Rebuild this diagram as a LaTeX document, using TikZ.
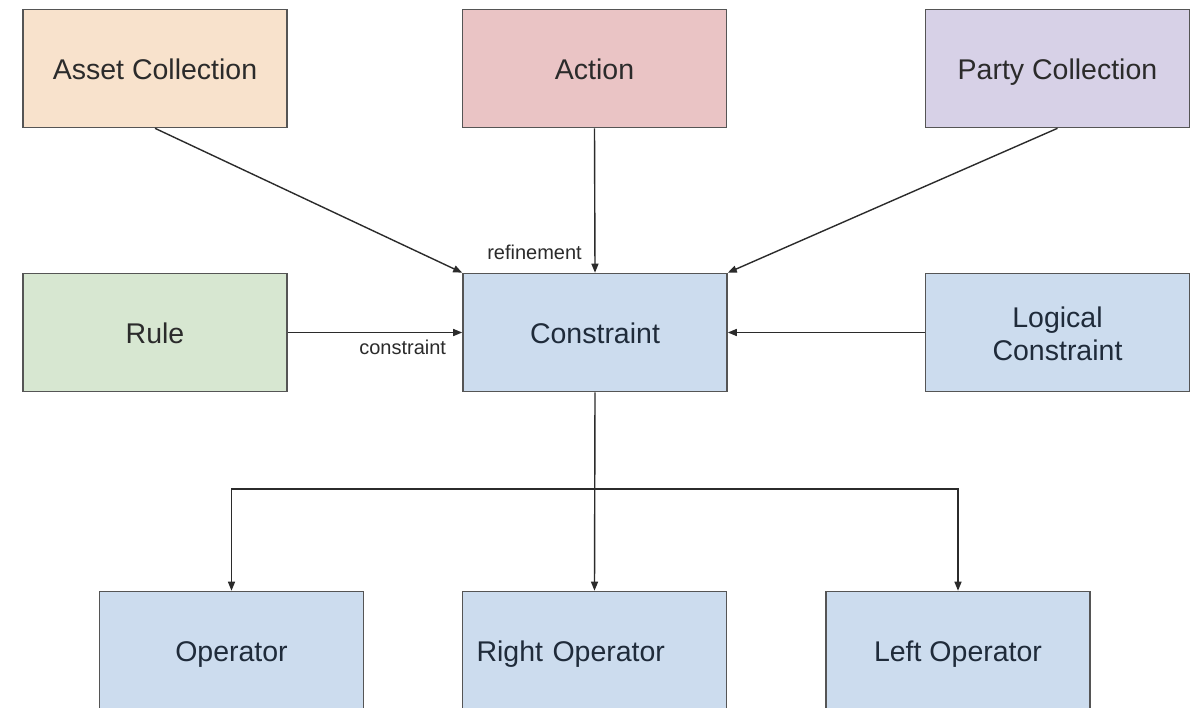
\documentclass[tikz,border=0pt]{standalone}
\usepackage{fontspec}
\setmainfont{Liberation Sans}
\usetikzlibrary{arrows.meta}

\definecolor{peach}{HTML}{F8E2CC}
\definecolor{rose}{HTML}{EAC4C5}
\definecolor{lavender}{HTML}{D7D1E7}
\definecolor{sage}{HTML}{D7E7D1}
\definecolor{paleblue}{HTML}{CCDCEE}
\definecolor{edge}{HTML}{555555}
\definecolor{ink}{HTML}{2B2B2B}
\definecolor{navyink}{HTML}{1F2B3A}

\tikzset{
  box/.style={draw=edge, line width=1.6pt, minimum width=264pt, minimum height=118pt,
    inner sep=0pt, text=ink, align=center,
    font=\fontsize{28.5}{33}\selectfont},
  oneline/.style={text height=24pt, text depth=2pt},
  bluebox/.style={box, fill=paleblue, text=navyink},
  link/.style={draw=ink, line width=1.4pt, -{Triangle[length=9pt,width=7pt]}},
  tag/.style={text=ink, inner sep=0pt, font=\fontsize{20}{22}\selectfont}
}

\begin{document}
\begin{tikzpicture}[x=1pt, y=-1pt]
  \useasboundingbox (0,0) rectangle (1194,707);
  \clip (0,0) rectangle (1194,707);
  \fill[white] (0,0) rectangle (1194,707);

  % top row
  \node[box, oneline, fill=peach]    (asset)  at (155,68.5)    {Asset Collection};
  \node[box, oneline, fill=rose]     (action) at (594.5,68.5)  {Action};
  \node[box, oneline, fill=lavender] (party)  at (1057.5,68.5) {Party Collection};

  % middle row
  \node[box, oneline, fill=sage] (rule)  at (155,332.5) {Rule};
  \node[bluebox, oneline]        (con)   at (595,332.5) {Constraint};
  \node[bluebox]                 (logic) at (1057.5,332.5) {};
  \node[text=navyink, align=center, inner sep=0pt,
        font=\fontsize{28.5}{33}\selectfont] (logictext) at ([yshift=-1.5pt]logic.center)
        {Logical\\Constraint};

  % bottom row (runs off the lower edge)
  \node[bluebox, oneline] (op)  at (231.5,650.5) {Operator};
  \node[bluebox, oneline, text width=236pt, align=left, inner xsep=14pt]
                          (rop) at (594.5,650.5) {Right Operator};
  \node[bluebox, oneline] (lop) at (958,650.5)   {Left Operator};

  % connectors into Constraint
  \draw[link] (asset.south) -- (con.north west);
  \draw[link] (action.south) -- (con.north);
  \draw[link] (party.south) -- (con.north east);
  \draw[link] (rule.east) -- (con.west);
  \draw[link] (logic.west) -- (con.east);

  \path (con.north) ++(-13,-13) node[tag, anchor=base east] (lref) {refinement};
  \path (con.west) ++(-16,22) node[tag, anchor=base east] (lcon) {constraint};

  % branching down to the operators
  \coordinate (split) at (con.south |- 0,489);
  \draw[link] (con.south) -- (rop.north);
  \draw[link] (split) -| (op.north);
  \draw[link] (split) -| (lop.north);
\end{tikzpicture}
\end{document}
